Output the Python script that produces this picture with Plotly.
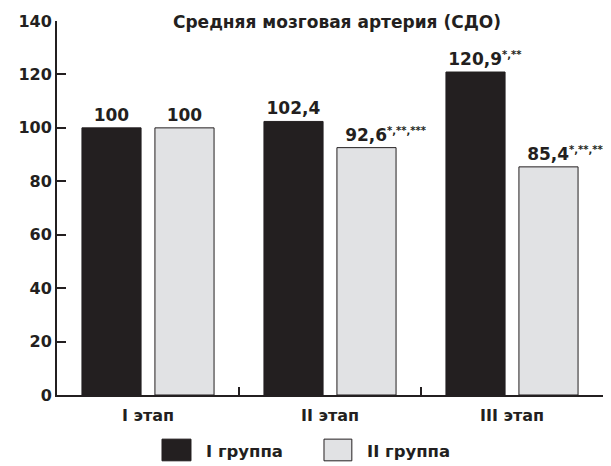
import plotly.graph_objects as go

categories = ["I этап", "II этап", "III этап"]
group1_name = "I группа"
group2_name = "II группа"
group1_values = [100, 102.4, 120.9]
group2_values = [100, 92.6, 85.4]
group1_numbers = ["100", "102,4", "120,9"]
group2_numbers = ["100", "92,6", "85,4"]
group1_marks = ["", "", "*,**"]
group2_marks = ["", "*,**,***", "*,**,***"]
y_ticks = [0, 20, 40, 60, 80, 100, 120, 140]
title_text = "Средняя мозговая артерия (СДО)"

FONT = "DejaVu Sans, Verdana, sans-serif"
BLACK = "#231f20"
GREY = "#e1e2e4"

def bfont(size):
    return dict(family=FONT, size=size, color=BLACK, weight="bold")

def label(num, mark):
    # number centred over the bar, significance marks hanging to the right
    if not mark:
        return num
    pad = "<sup><span style='font-size:10px;color:rgba(0,0,0,0)'>%s</span></sup>" % mark
    return pad + num + "<sup><span style='font-size:10px'>%s</span></sup>" % mark

fig = go.Figure()
fig.add_trace(go.Bar(
    x=categories, y=group1_values, name=group1_name,
    text=[label(n, m) for n, m in zip(group1_numbers, group1_marks)],
    textposition="outside", cliponaxis=False, constraintext="none",
    marker=dict(color=BLACK, line=dict(color=BLACK, width=1)),
    textfont=bfont(17), showlegend=False,
))
fig.add_trace(go.Bar(
    x=categories, y=group2_values, name=group2_name,
    text=[label(n, m) for n, m in zip(group2_numbers, group2_marks)],
    textposition="outside", cliponaxis=False, constraintext="none",
    marker=dict(color=GREY, line=dict(color=BLACK, width=1)),
    textfont=bfont(17), showlegend=False,
))

# manual legend (paper coordinates)
legend_items = [(group1_name, BLACK, 0.1923, 0.2454, 0.269), (group2_name, GREY, 0.489, 0.540, 0.564)]
for name, col, x0, x1, tx in legend_items:
    fig.add_shape(type="rect", xref="paper", yref="paper", x0=x0, x1=x1, y0=-0.176, y1=-0.118,
                  fillcolor=col, line=dict(color=BLACK, width=1))
    fig.add_annotation(xref="paper", yref="paper", x=tx, y=-0.150, text=name, showarrow=False,
                       xanchor="left", yanchor="middle", font=bfont(16.5))

fig.update_layout(
    width=603, height=458,
    margin=dict(l=49, r=8, t=13, b=71),
    paper_bgcolor="white", plot_bgcolor="white",
    font=dict(family=FONT, size=14, color=BLACK),
    bargap=0.198, bargroupgap=0.19,
    barmode="group",
    showlegend=False,
    title=dict(text=title_text, x=0.5456, xref="container", xanchor="center",
               y=0.969, yanchor="middle", font=bfont(17)),
)
fig.update_yaxes(
    range=[0, 140], tickvals=y_ticks,
    showgrid=False, zeroline=False, showline=True, linecolor=BLACK, linewidth=2,
    ticks="inside", ticklen=9, tickwidth=2, tickcolor=BLACK,
    tickfont=bfont(16), automargin=False,
)
fig.update_xaxes(
    showgrid=False, showline=True, linecolor=BLACK, linewidth=2,
    ticks="inside", tickson="boundaries", ticklen=8, tickwidth=2, tickcolor=BLACK,
    tickfont=bfont(16), automargin=False, ticklabelstandoff=5,
)
fig.write_html("out.html")
